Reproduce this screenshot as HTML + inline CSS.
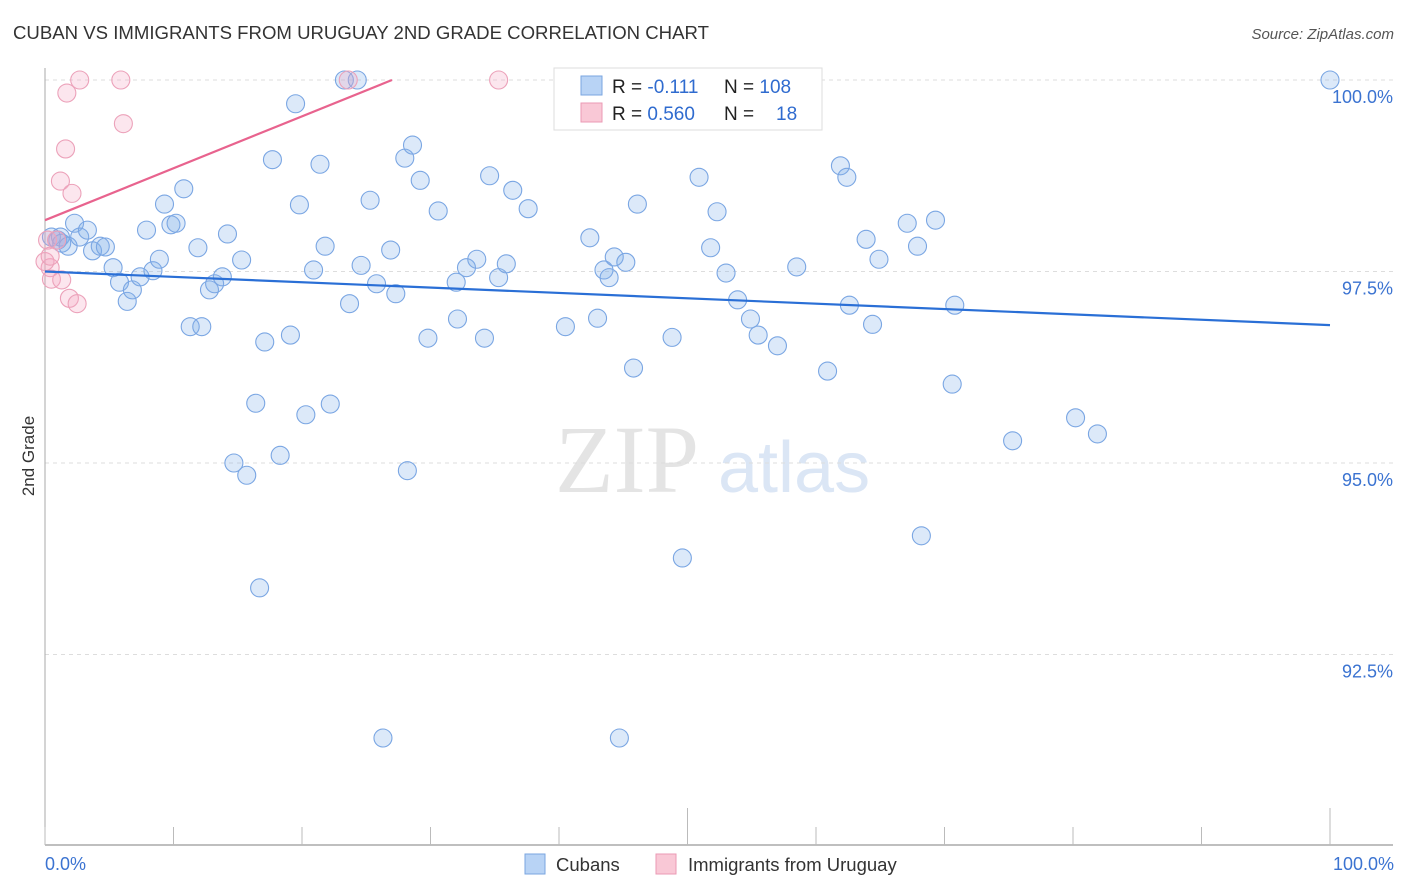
<!DOCTYPE html>
<html><head><meta charset="utf-8"><style>
body{margin:0;background:#fff;font-family:"Liberation Sans",sans-serif}
svg{display:block}
</style></head><body>
<svg id="chart" width="1406" height="892" xmlns="http://www.w3.org/2000/svg">
<text x="13" y="39" font-size="18.6" fill="#333">CUBAN VS IMMIGRANTS FROM URUGUAY 2ND GRADE CORRELATION CHART</text>
<text x="1394" y="39" font-size="15" fill="#555" text-anchor="end" font-style="italic">Source: ZipAtlas.com</text>
<text transform="translate(34,456) rotate(-90)" font-size="17" fill="#333" text-anchor="middle">2nd Grade</text>
<g>
<text x="555" y="492" font-size="96" font-family="Liberation Serif,serif" fill="#e4e4e4">ZIP</text>
<text x="718" y="492" font-size="72" fill="#dbe6f5">atlas</text>
</g>
<g id="grid"></g><g id="axes"></g><g id="marks"></g>
<g>
<rect x="554" y="68" width="268" height="62" fill="#fff" stroke="#ddd"/>
<rect x="581" y="76" width="21" height="19" fill="#b8d3f5" stroke="#7aa6e0"/>
<rect x="581" y="103" width="21" height="19" fill="#f9c8d6" stroke="#eb9ab4"/>
<text x="612" y="93" font-size="19" fill="#222">R = <tspan fill="#2f6bcf"> -0.111</tspan><tspan x="724">N = </tspan><tspan fill="#2f6bcf">108</tspan></text>
<text x="612" y="120" font-size="19" fill="#222">R = <tspan fill="#2f6bcf">0.560</tspan><tspan x="724">N = </tspan><tspan x="776" fill="#2f6bcf">18</tspan></text>
</g>
<g>
<rect x="525" y="854" width="20" height="20" fill="#b8d3f5" stroke="#7aa6e0"/>
<text x="556" y="871" font-size="18.5" fill="#333">Cubans</text>
<rect x="656" y="854" width="20" height="20" fill="#f9c8d6" stroke="#eb9ab4"/>
<text x="688" y="871" font-size="18.5" fill="#333">Immigrants from Uruguay</text>
</g>
</svg>
<script>
const yTicks=[100,97.5,95,92.5];
const yTickLabels=["100.0%","97.5%","95.0%","92.5%"];
const xTickLabels=["0.0%","100.0%"];
const cubanX=[0.5,1.0,1.2,1.3,1.8,2.3,2.7,3.3,3.7,4.3,4.7,5.3,5.8,6.4,6.8,7.4,7.9,8.4,8.9,9.3,9.8,10.2,10.8,11.3,11.9,12.2,12.8,13.2,13.8,14.2,14.7,15.3,15.7,16.4,16.7,17.1,17.7,18.3,19.1,19.5,19.8,20.3,20.9,21.4,21.8,22.2,23.3,23.7,24.3,24.6,25.3,25.8,26.3,26.9,27.3,28.0,28.2,28.6,29.2,29.8,30.6,32.0,32.1,32.8,33.6,34.2,34.6,35.3,35.9,36.4,37.6,40.5,42.4,43.0,43.5,43.9,44.3,44.7,45.2,45.8,46.1,48.8,49.6,50.9,51.8,52.3,53.0,53.9,54.9,55.5,57.0,58.5,60.9,61.9,62.4,62.6,63.9,64.4,64.9,67.1,67.9,68.2,69.3,70.6,70.8,75.3,80.2,81.9,100];
const cubanY=[97.95,97.91,97.95,97.87,97.83,98.13,97.95,98.04,97.77,97.83,97.82,97.55,97.36,97.11,97.26,97.43,98.04,97.51,97.66,98.38,98.11,98.13,98.58,96.78,97.81,96.78,97.26,97.34,97.43,97.99,95.00,97.65,94.84,95.78,93.37,96.58,98.96,95.10,96.67,99.69,98.37,95.63,97.52,98.90,97.83,95.77,100,97.08,100,97.58,98.43,97.34,91.41,97.78,97.21,98.98,94.90,99.15,98.69,96.63,98.29,97.36,96.88,97.55,97.66,96.63,98.75,97.42,97.60,98.56,98.32,96.78,97.94,96.89,97.52,97.42,97.69,91.41,97.62,96.24,98.38,96.64,93.76,98.73,97.81,98.28,97.48,97.13,96.88,96.67,96.53,97.56,96.20,98.88,98.73,97.06,97.92,96.81,97.66,98.13,97.83,94.05,98.17,96.03,97.06,95.29,95.59,95.38,100];
const uruguayX=[0.2,0.4,0.5,0.9,1.2,1.3,1.6,1.7,1.9,2.1,2.5,2.7,5.9,6.1,23.6,35.3,0,0.4];
const uruguayY=[97.91,97.55,97.40,97.91,98.68,97.39,99.10,99.83,97.15,98.52,97.08,100,100,99.43,100,100,97.63,97.70];
const cubanTrend=[97.5,96.8];
const uruguayTrend=[98.17,100];
const NS="http://www.w3.org/2000/svg";
const X0=45,X1=1330,Y100=80,PXPER=76.6;
const xs=v=>X0+(X1-X0)*v/100;
const ys=v=>Y100+(100-v)*PXPER;
function mk(tag,attrs,parent){const e=document.createElementNS(NS,tag);for(const k in attrs)e.setAttribute(k,attrs[k]);parent.appendChild(e);return e;}
const grid=document.getElementById('grid'),axes=document.getElementById('axes'),marks=document.getElementById('marks');
yTicks.forEach((t,i)=>{
 const l=mk('line',{x1:45,x2:1393,y1:ys(t),y2:ys(t),stroke:'#ddd','stroke-dasharray':'4,4'},grid);
 
 
 const tx=mk('text',{x:1393,y:ys(t)+23,'font-size':18,fill:'#3b73d1','text-anchor':'end'},axes);
 tx.textContent=yTickLabels[i];
 
 
});
let a=mk('line',{x1:45,x2:45,y1:68,y2:845,stroke:'#aaa'},axes);


a=mk('line',{x1:45,x2:1393,y1:845,y2:845,stroke:'#aaa','stroke-width':1.5},axes);


for(let i=0;i<=10;i++){
 const x=xs(i*10);const major=(i===5||i===10);
 const t=mk('line',{x1:x,x2:x,y1:major?808:827,y2:845,stroke:'#bbb'},axes);
 
 
}
[[0,'start',45],[100,'end',1394]].forEach((d,i)=>{
 const t=mk('text',{x:d[2],y:870,'font-size':18,fill:'#3b73d1','text-anchor':d[1]},axes);
 t.textContent=xTickLabels[i];
 
 
});
cubanX.forEach((v,i)=>{
 const c=mk('circle',{cx:xs(v),cy:ys(cubanY[i]),r:9,fill:'rgba(130,175,235,0.28)',stroke:'#7aa6e3','stroke-width':1.1},marks);
 
 
});
uruguayX.forEach((v,i)=>{
 const c=mk('circle',{cx:xs(v),cy:ys(uruguayY[i]),r:9,fill:'rgba(245,165,195,0.28)',stroke:'#eca2ba','stroke-width':1.1},marks);
 
 
});
let tl=mk('line',{x1:xs(0),y1:ys(cubanTrend[0]),x2:xs(100),y2:ys(cubanTrend[1]),stroke:'#2a6fd6','stroke-width':2.2},marks);


tl=mk('line',{x1:xs(0),y1:ys(uruguayTrend[0]),x2:xs(27),y2:ys(uruguayTrend[1]),stroke:'#e8638e','stroke-width':2.2},marks);


</script>
</body></html>
